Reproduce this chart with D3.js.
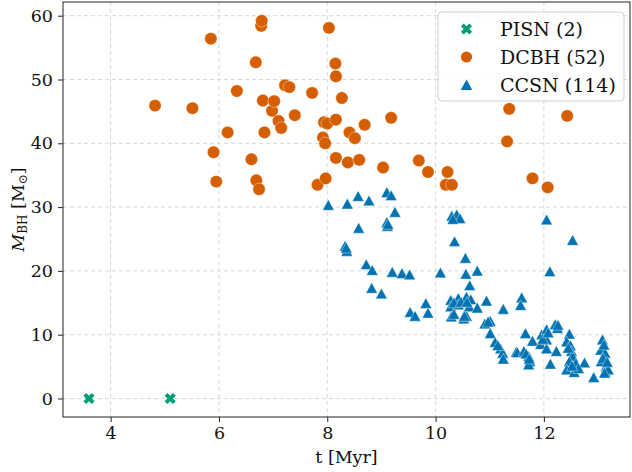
<!DOCTYPE html>
<html>
<head>
<meta charset="utf-8">
<script src="https://cdn.jsdelivr.net/npm/d3@7"></script>
<style>
  body { margin: 0; background: #fff; }
  svg text { font-family: "DejaVu Serif", serif; fill: #111; }
</style>
</head>
<body>
<div id="chart"></div>
<script>
// PISN
const pisnT = [3.60, 5.10];
const pisnM = [0, 0];

// DCBH
const dcbhT = [4.82, 5.51, 5.85, 5.90, 5.95, 6.16, 6.33, 6.60, 6.68, 6.69,
  6.74, 6.78, 6.79, 6.81, 6.84, 6.98, 7.02, 7.10, 7.15, 7.22,
  7.30, 7.40, 7.72, 7.82, 7.92, 7.94, 7.96, 7.97, 8.00, 8.03,
  8.15, 8.16, 8.16, 8.16, 8.27, 8.38, 8.41, 8.51, 8.59, 8.69,
  9.18, 9.03, 9.69, 9.86, 10.22, 10.19, 10.30, 11.36, 11.32, 11.79,
  12.07, 12.43];
const dcbhM = [45.9, 45.5, 56.4, 38.6, 34.0, 41.7, 48.2, 37.5, 52.7, 34.2,
  32.8, 58.4, 59.2, 46.7, 41.7, 45.1, 46.6, 43.5, 42.4, 49.1,
  48.8, 44.4, 47.9, 33.5, 40.9, 43.3, 40.0, 34.5, 43.1, 58.1,
  52.5, 50.5, 43.7, 37.7, 47.1, 37.0, 41.7, 40.8, 37.4, 42.9,
  44.0, 36.2, 37.3, 35.5, 35.5, 33.5, 33.5, 45.4, 40.3, 34.5,
  33.1, 44.3];

// CCSN
const ccsnT = [8.02, 8.37, 8.57, 8.77, 9.10, 9.18, 9.25, 9.10, 9.11, 8.58,
  8.33, 8.36, 8.72, 8.83, 9.20, 9.38, 9.52, 8.82, 9.00, 9.53,
  9.62, 9.82, 9.86, 10.30, 10.39, 10.45, 10.35, 10.55, 10.09, 10.56,
  10.77, 10.63, 10.28, 10.28, 10.42, 10.42, 10.57, 10.65, 10.62, 10.77,
  10.94, 11.25, 10.29, 10.52, 10.57, 10.91, 11.01, 11.01, 11.10, 11.20,
  11.24, 11.25, 11.49, 11.59, 11.57, 12.05, 12.53, 12.11, 11.66, 11.79,
  11.51, 11.63, 11.72, 11.74, 11.72, 11.96, 11.94, 12.05, 12.05, 12.05,
  12.21, 12.25, 12.23, 12.12, 12.47, 12.42, 12.49, 12.51, 12.53, 12.47,
  12.59, 12.42, 12.56, 12.75, 12.64, 12.92, 13.08, 13.05, 13.13, 13.06,
  13.15, 13.13, 13.19, 10.32, 9.12, 8.35, 10.34, 10.47, 10.58, 10.53,
  10.34, 10.97, 11.15, 11.98, 12.08, 12.26, 12.45, 12.52, 13.11, 13.09,
  13.17, 11.67, 11.73, 13.12];
const ccsnM = [30.3, 30.5, 31.7, 31.0, 32.3, 31.8, 29.2, 27.6, 27.0, 26.7,
  23.9, 23.1, 21.0, 20.1, 19.8, 19.6, 19.4, 17.3, 16.4, 13.5,
  12.9, 14.9, 13.4, 28.6, 28.8, 28.2, 24.6, 22.0, 19.7, 19.5,
  20.0, 17.7, 15.4, 14.4, 15.7, 14.7, 15.9, 15.5, 14.4, 14.2,
  15.3, 14.0, 12.8, 12.5, 12.9, 11.7, 12.1, 10.2, 8.8, 7.8,
  7.1, 6.2, 7.3, 15.8, 14.6, 28.0, 24.8, 19.9, 10.2, 9.0,
  7.2, 7.4, 6.6, 5.8, 5.3, 10.0, 8.5, 10.8, 9.2, 7.8,
  11.6, 11.0, 7.4, 5.4, 10.1, 8.9, 8.3, 7.4, 6.6, 5.8,
  5.5, 4.5, 4.1, 5.6, 4.7, 3.3, 9.2, 7.6, 7.1, 5.8,
  5.0, 4.2, 4.5, 28.1, 27.3, 23.6, 15.0, 15.1, 15.1, 12.9,
  13.2, 12.0, 8.3, 9.3, 10.3, 11.5, 7.9, 5.1, 8.4, 6.3,
  5.7, 7.0, 6.2, 4.0];

const xTicks = [4, 6, 8, 10, 12];
const yTicks = [0, 10, 20, 30, 40, 50, 60];
const legendLabels = ["PISN (2)", "DCBH (52)", "CCSN (114)"];

const width = 632, height = 472,
    margin = ({ top: 2, right: 2, bottom: 55, left: 63 });

const colors = { pisn: "#029e73", dcbh: "#d55e00", ccsn: "#0173b2" };

const svg = d3.select("#chart")
    .append("svg")
    .attr("width", width)
    .attr("height", height);

let x = d3.scaleLinear()
    .domain([3.12, 13.59])
    .range([margin.left, width - margin.right]);

let y = d3.scaleLinear()
    .domain([-2.9, 62.15])
    .range([height - margin.bottom, margin.top]);

// grid
svg.append("g")
  .selectAll("line")
  .data(xTicks)
  .join("line")
    .attr("x1", d => x(d)).attr("x2", d => x(d))
    .attr("y1", margin.top).attr("y2", height - margin.bottom)
    .attr("stroke", "#d8d8d8")
    .attr("stroke-dasharray", "4,3");

svg.append("g")
  .selectAll("line")
  .data(yTicks)
  .join("line")
    .attr("x1", margin.left).attr("x2", width - margin.right)
    .attr("y1", d => y(d)).attr("y2", d => y(d))
    .attr("stroke", "#d8d8d8")
    .attr("stroke-dasharray", "4,3");

// axes
const xAxis = svg.append("g")
    .attr("transform", `translate(0,${height - margin.bottom})`)
    .call(d3.axisBottom(x).tickValues(xTicks).tickSize(5).tickPadding(5).tickSizeOuter(0));

const yAxis = svg.append("g")
    .attr("transform", `translate(${margin.left},0)`)
    .call(d3.axisLeft(y).tickValues(yTicks).tickSize(5).tickPadding(5).tickSizeOuter(0));

for (let ax of [xAxis, yAxis]) {
  ax.select(".domain").remove();
  ax.selectAll("line").attr("stroke", "#222");
  ax.selectAll("text")
    .attr("font-family", "DejaVu Serif")
    .attr("font-size", "17.5px")
    .attr("fill", "#111");
}

// frame
svg.append("rect")
    .attr("x", margin.left)
    .attr("y", margin.top)
    .attr("width", width - margin.left - margin.right)
    .attr("height", height - margin.top - margin.bottom)
    .attr("fill", "none")
    .attr("stroke", "#222")
    .attr("stroke-width", 1);

// markers
const tri = "M0,-5.6L5.8,5L-5.8,5Z";
const cross = d3.symbol(d3.symbolCross).size(78)();

svg.append("g")
  .selectAll("path")
  .data(ccsnT.map((t, i) => [t, ccsnM[i]]))
  .join("path")
    .attr("d", tri)
    .attr("transform", d => `translate(${x(d[0])},${y(d[1])})`)
    .attr("fill", colors.ccsn)
    .attr("stroke", "white")
    .attr("stroke-width", 0.4);

svg.append("g")
  .selectAll("circle")
  .data(dcbhT.map((t, i) => [t, dcbhM[i]]))
  .join("circle")
    .attr("cx", d => x(d[0]))
    .attr("cy", d => y(d[1]))
    .attr("r", 6.2)
    .attr("fill", colors.dcbh)
    .attr("stroke", "white")
    .attr("stroke-width", 0.4);

svg.append("g")
  .selectAll("path")
  .data(pisnT.map((t, i) => [t, pisnM[i]]))
  .join("path")
    .attr("d", cross)
    .attr("transform", d => `translate(${x(d[0])},${y(d[1])}) rotate(45)`)
    .attr("fill", colors.pisn);

// axis labels
svg.append("text")
    .attr("text-anchor", "middle")
    .attr("x", (margin.left + width - margin.right) / 2)
    .attr("y", 463)
    .attr("font-size", "17.5px")
    .text("t [Myr]");

const yl = svg.append("text")
    .attr("text-anchor", "middle")
    .attr("transform", `translate(24,${(margin.top + height - margin.bottom) / 2}) rotate(-90)`)
    .attr("font-size", "17.5px");
yl.append("tspan").attr("font-style", "italic").text("M");
yl.append("tspan").attr("font-size", "12px").attr("dy", 3).text("BH");
yl.append("tspan").attr("dy", -3).text(" [M");
yl.append("tspan").attr("font-size", "12px").attr("dy", 3).text("⊙");
yl.append("tspan").attr("dy", -3).text("]");

// legend
const lg = svg.append("g");
lg.append("rect")
    .attr("x", 438).attr("y", 12)
    .attr("width", 186).attr("height", 89)
    .attr("rx", 4)
    .attr("fill", "white").attr("fill-opacity", 0.85)
    .attr("stroke", "#d0d0d0");

const rows = [29, 57, 85];
lg.append("path")
    .attr("d", cross)
    .attr("transform", `translate(466.5,${rows[0]}) rotate(45)`)
    .attr("fill", colors.pisn);
lg.append("circle")
    .attr("cx", 466.5).attr("cy", rows[1]).attr("r", 5.6)
    .attr("fill", colors.dcbh);
lg.append("path")
    .attr("d", tri)
    .attr("transform", `translate(466.5,${rows[2]})`)
    .attr("fill", colors.ccsn);

lg.selectAll("text.lab")
  .data(legendLabels)
  .join("text")
    .attr("class", "lab")
    .attr("x", 500)
    .attr("y", (d, i) => rows[i])
    .attr("dy", "0.35em")
    .attr("font-size", "19px")
    .text(d => d);
</script>
</body>
</html>
